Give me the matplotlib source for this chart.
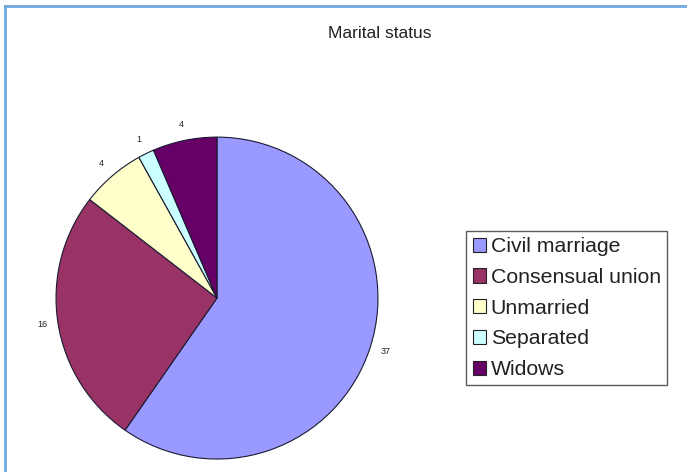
import matplotlib.pyplot as plt
from matplotlib.patches import Patch
from matplotlib.lines import Line2D

categories = ["Civil marriage", "Consensual union", "Unmarried", "Separated", "Widows"]
counts = [37, 16, 4, 1, 4]
colors = ["#9999FF", "#993366", "#FFFFCC", "#CCFFFF", "#660066"]

plt.rcParams["font.family"] = ["Liberation Sans", "DejaVu Sans"]

fig = plt.figure(figsize=(6.87, 4.72), dpi=100)
fig.patch.set_facecolor("white")

# pie area
ax = fig.add_axes([0.0815, 0.0275, 0.4687, 0.682])
wedges, texts = ax.pie(
    counts,
    labels=[str(c) for c in counts],
    colors=colors,
    startangle=90,
    counterclock=False,
    labeldistance=1.1,
    wedgeprops={"edgecolor": "#1a1a33", "linewidth": 0.8},
    textprops={"fontsize": 6.5, "color": "#222222"},
)
for t in texts:
    t.set_horizontalalignment("center")
    t.set_verticalalignment("center")
ax.set_xlim(-1, 1)
ax.set_ylim(-1, 1)
ax.set_aspect("equal")

fig.text(0.553, 0.93, "Marital status", ha="center", va="center", fontsize=12.5, color="#222222")

handles = [Patch(facecolor=c, edgecolor="#222222", linewidth=0.8) for c in colors]
leg = fig.legend(
    handles, categories,
    loc="center", bbox_to_anchor=(0.825, 0.347),
    fontsize=15.3, frameon=True, fancybox=False,
    handlelength=0.65, handleheight=0.65, handletextpad=0.2,
    labelspacing=0.55, borderpad=0.3, borderaxespad=0,
)
leg.get_frame().set_edgecolor("#333333")
leg.get_frame().set_linewidth(1.0)
for txt in leg.get_texts():
    txt.set_color("#222222")

# blue frame along the top and left edges
fig.add_artist(Line2D([0.007, 1.0], [0.987, 0.987], transform=fig.transFigure, color="#6FA8DC", linewidth=2))
fig.add_artist(Line2D([0.007, 0.007], [0.0, 0.987], transform=fig.transFigure, color="#6FA8DC", linewidth=2))

fig.savefig("out.png", dpi=100)
